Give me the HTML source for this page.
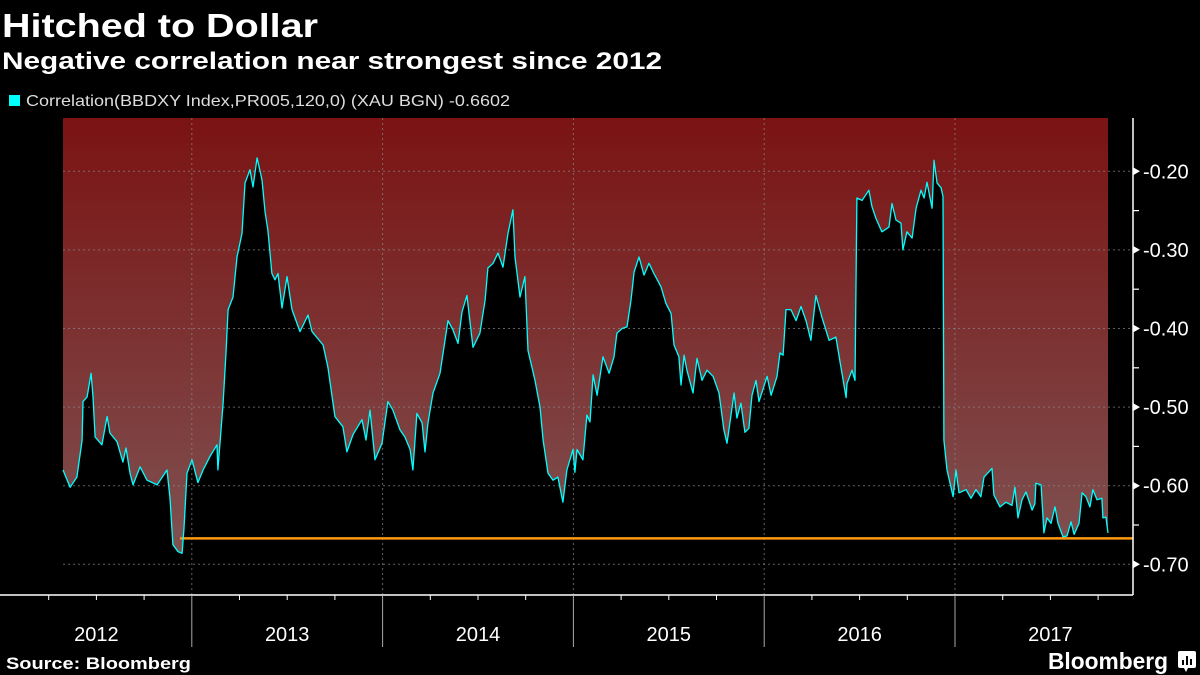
<!DOCTYPE html>
<html><head><meta charset="utf-8">
<style>
html,body{margin:0;padding:0;background:#000;}
svg{display:block;}
text{font-family:"Liberation Sans",sans-serif;}
</style></head>
<body>
<svg id="chart" width="1200" height="675" viewBox="0 0 1200 675" xmlns="http://www.w3.org/2000/svg">
<defs>
<linearGradient id="redgrad" x1="0" y1="0" x2="0" y2="1" gradientUnits="userSpaceOnUse" gradientTransform="" >
</linearGradient>
<linearGradient id="fillgrad" x1="0" y1="118" x2="0" y2="560" gradientUnits="userSpaceOnUse">
<stop offset="0" stop-color="#7b1313"/>
<stop offset="1" stop-color="#7f5252"/>
</linearGradient>
</defs>
<rect x="0" y="0" width="1200" height="675" fill="#000"/>
<text x="2" y="37" fill="#fff" font-size="33" font-weight="bold" textLength="316" lengthAdjust="spacingAndGlyphs">Hitched to Dollar</text>
<text x="2" y="69" fill="#fff" font-size="24" font-weight="bold" textLength="660" lengthAdjust="spacingAndGlyphs">Negative correlation near strongest since 2012</text>
<rect x="9" y="95" width="11" height="11" fill="#00ffff"/>
<text x="26" y="106" fill="#dddddd" font-size="16" textLength="484" lengthAdjust="spacingAndGlyphs">Correlation(BBDXY Index,PR005,120,0) (XAU BGN) -0.6602</text>
<g id="plot"></g>
<text x="6" y="669" fill="#fff" font-size="17" font-weight="bold" textLength="185" lengthAdjust="spacingAndGlyphs">Source: Bloomberg</text>
<text x="1048" y="669" fill="#fff" font-size="23" font-weight="bold" textLength="120" lengthAdjust="spacingAndGlyphs">Bloomberg</text>
<g>
<rect x="1178" y="651" width="18" height="17" rx="2" fill="#fff"/>
<polygon points="1184,668 1188,668 1186,672" fill="#fff"/>
<rect x="1182" y="660" width="2" height="5" fill="#000"/><rect x="1186" y="656" width="2" height="9" fill="#000"/><rect x="1190" y="659" width="2" height="6" fill="#000"/>
</g>
</svg>
<script>
const dates=[2012.325,2012.362,2012.398,2012.425,2012.430,2012.451,2012.472,2012.482,2012.493,2012.529,2012.556,2012.571,2012.608,2012.639,2012.655,2012.676,2012.692,2012.729,2012.765,2012.818,2012.870,2012.886,2012.901,2012.928,2012.949,2012.959,2012.975,2013.001,2013.032,2013.059,2013.095,2013.132,2013.137,2013.164,2013.179,2013.190,2013.216,2013.237,2013.263,2013.279,2013.305,2013.321,2013.342,2013.368,2013.384,2013.399,2013.420,2013.436,2013.452,2013.473,2013.499,2013.525,2013.567,2013.609,2013.630,2013.688,2013.714,2013.750,2013.792,2013.813,2013.845,2013.892,2013.913,2013.934,2013.960,2013.997,2014.028,2014.054,2014.091,2014.117,2014.144,2014.159,2014.180,2014.207,2014.222,2014.238,2014.264,2014.301,2014.317,2014.343,2014.369,2014.395,2014.416,2014.442,2014.474,2014.510,2014.537,2014.552,2014.579,2014.605,2014.631,2014.657,2014.683,2014.694,2014.720,2014.746,2014.762,2014.799,2014.825,2014.841,2014.867,2014.893,2014.919,2014.945,2014.966,2014.998,2015.008,2015.019,2015.050,2015.071,2015.087,2015.103,2015.124,2015.155,2015.187,2015.213,2015.228,2015.255,2015.281,2015.302,2015.318,2015.344,2015.370,2015.396,2015.422,2015.459,2015.485,2015.512,2015.527,2015.553,2015.564,2015.580,2015.595,2015.627,2015.648,2015.674,2015.700,2015.732,2015.763,2015.789,2015.805,2015.842,2015.857,2015.878,2015.899,2015.920,2015.936,2015.957,2015.973,2016.015,2016.036,2016.067,2016.083,2016.099,2016.114,2016.140,2016.167,2016.193,2016.219,2016.245,2016.271,2016.303,2016.340,2016.376,2016.402,2016.429,2016.434,2016.460,2016.476,2016.486,2016.513,2016.549,2016.565,2016.586,2016.617,2016.654,2016.670,2016.691,2016.717,2016.727,2016.748,2016.775,2016.796,2016.822,2016.838,2016.853,2016.880,2016.890,2016.906,2016.927,2016.937,2016.942,2016.958,2016.979,2016.990,2017.005,2017.021,2017.058,2017.084,2017.110,2017.136,2017.152,2017.194,2017.204,2017.236,2017.267,2017.299,2017.314,2017.330,2017.351,2017.372,2017.404,2017.419,2017.424,2017.451,2017.466,2017.482,2017.503,2017.524,2017.540,2017.566,2017.587,2017.608,2017.624,2017.650,2017.666,2017.686,2017.707,2017.723,2017.744,2017.770,2017.775,2017.791,2017.802];
const values=[-0.580,-0.602,-0.589,-0.542,-0.493,-0.487,-0.457,-0.487,-0.538,-0.548,-0.512,-0.533,-0.544,-0.570,-0.552,-0.584,-0.599,-0.576,-0.593,-0.599,-0.580,-0.616,-0.675,-0.684,-0.686,-0.654,-0.584,-0.567,-0.596,-0.580,-0.563,-0.548,-0.580,-0.495,-0.431,-0.376,-0.360,-0.309,-0.279,-0.215,-0.198,-0.220,-0.183,-0.211,-0.252,-0.275,-0.330,-0.338,-0.330,-0.374,-0.334,-0.376,-0.404,-0.383,-0.404,-0.421,-0.450,-0.512,-0.525,-0.557,-0.535,-0.516,-0.542,-0.504,-0.567,-0.546,-0.493,-0.504,-0.529,-0.538,-0.554,-0.580,-0.508,-0.520,-0.557,-0.520,-0.482,-0.457,-0.431,-0.390,-0.402,-0.419,-0.379,-0.358,-0.424,-0.406,-0.364,-0.323,-0.317,-0.304,-0.322,-0.279,-0.249,-0.309,-0.360,-0.334,-0.428,-0.466,-0.500,-0.542,-0.584,-0.593,-0.589,-0.621,-0.580,-0.554,-0.583,-0.554,-0.567,-0.510,-0.519,-0.459,-0.485,-0.436,-0.457,-0.436,-0.406,-0.400,-0.398,-0.364,-0.328,-0.309,-0.332,-0.317,-0.330,-0.347,-0.368,-0.381,-0.421,-0.436,-0.472,-0.434,-0.453,-0.482,-0.438,-0.466,-0.453,-0.461,-0.482,-0.529,-0.546,-0.482,-0.514,-0.495,-0.532,-0.527,-0.485,-0.466,-0.493,-0.461,-0.485,-0.461,-0.431,-0.434,-0.376,-0.376,-0.390,-0.372,-0.390,-0.415,-0.358,-0.386,-0.415,-0.411,-0.449,-0.488,-0.470,-0.453,-0.466,-0.234,-0.237,-0.224,-0.245,-0.260,-0.277,-0.271,-0.241,-0.262,-0.266,-0.300,-0.277,-0.285,-0.247,-0.224,-0.234,-0.214,-0.247,-0.186,-0.215,-0.221,-0.232,-0.542,-0.580,-0.602,-0.614,-0.580,-0.609,-0.605,-0.616,-0.605,-0.614,-0.589,-0.578,-0.612,-0.627,-0.621,-0.625,-0.602,-0.641,-0.618,-0.608,-0.631,-0.623,-0.597,-0.599,-0.660,-0.641,-0.648,-0.627,-0.648,-0.665,-0.664,-0.646,-0.662,-0.648,-0.609,-0.614,-0.627,-0.605,-0.618,-0.616,-0.641,-0.640,-0.660];
const yTicks=[-0.20,-0.30,-0.40,-0.50,-0.60,-0.70];
const yTickLabels=["-0.20","-0.30","-0.40","-0.50","-0.60","-0.70"];
const yMinorTicks=[-0.25,-0.35,-0.45,-0.55,-0.65];
const years=[2012,2013,2014,2015,2016,2017];
const yearLabels=["2012","2013","2014","2015","2016","2017"];
const refLevel=[-0.667];
const refStart=[2012.938];

const NS="http://www.w3.org/2000/svg";
const plot=document.getElementById('plot');
function X(t){return 1+(t-2012)*190.8;}
function Y(v){return 171.3+(-0.2-v)*786;}
const TOP=118,BOT=595,RIGHT=1133,LEFT=63;
function mk(tag,attrs,parent){const e=document.createElementNS(NS,tag);for(const k in attrs)e.setAttribute(k,attrs[k]);(parent||plot).appendChild(e);return e;}

// area fill above line
let d='M'+X(dates[0]).toFixed(1)+','+TOP;
for(let i=0;i<dates.length;i++)d+=' L'+X(dates[i]).toFixed(1)+','+Y(values[i]).toFixed(1);
d+=' L'+X(dates[dates.length-1]).toFixed(1)+','+TOP+' Z';
const area=mk('path',{d:d,fill:'url(#fillgrad)'});



// gridlines
yTicks.forEach(v=>{
  const g=mk('line',{x1:LEFT,x2:RIGHT,y1:Y(v),y2:Y(v),stroke:'#8a8a8a','stroke-width':1,'stroke-dasharray':'2,3','stroke-opacity':0.7});
  
  
});
years.slice(1).forEach(yr=>{
  const g=mk('line',{x1:X(yr),x2:X(yr),y1:TOP,y2:BOT,stroke:'#8a8a8a','stroke-width':1,'stroke-dasharray':'2,3','stroke-opacity':0.7});
  
  
});

// reference line
const ref=mk('line',{x1:X(refStart[0]),x2:RIGHT,y1:Y(refLevel[0]),y2:Y(refLevel[0]),stroke:'#ff9a10','stroke-width':2.5});



// series line
let pts=dates.map((t,i)=>X(t).toFixed(1)+','+Y(values[i]).toFixed(1)).join(' ');
const line=mk('polyline',{points:pts,fill:'none',stroke:'#00ffff','stroke-width':1.3,'stroke-linejoin':'round'});



// axes
const ya=mk('line',{x1:RIGHT,x2:RIGHT,y1:TOP,y2:BOT,stroke:'#fff','stroke-width':1.5});


const xa=mk('line',{x1:0,x2:RIGHT,y1:BOT,y2:BOT,stroke:'#fff','stroke-width':1.5});



yTicks.forEach((v,i)=>{
  const y=Y(v);
  const tk=mk('polygon',{points:(RIGHT)+','+(y-4)+' '+(RIGHT+7)+','+y+' '+(RIGHT)+','+(y+4),fill:'#fff'});
  
  
  const lb=mk('text',{x:RIGHT+10,y:y+7,fill:'#fff','font-size':20});
  lb.textContent=yTickLabels[i];
  
  
});
yMinorTicks.forEach(v=>{
  const tk=mk('line',{x1:RIGHT,x2:RIGHT+6,y1:Y(v),y2:Y(v),stroke:'#fff','stroke-width':1.2});
  
  
});
years.forEach((yr,i)=>{
  for(let q=1;q<4;q++){
    const tx=X(yr+q/4);
    const tk=mk('line',{x1:tx,x2:tx,y1:BOT,y2:BOT+5,stroke:'#fff','stroke-width':1});
    
    
  }
  if(i>0){
    const dv=mk('line',{x1:X(yr),x2:X(yr),y1:BOT,y2:647,stroke:'#aaa','stroke-width':1});
    
    
  }
  const lb=mk('text',{x:X(yr+0.5),y:641,fill:'#fff','font-size':20,'text-anchor':'middle'});
  lb.textContent=yearLabels[i];
  
  
});
</script>
</body></html>
